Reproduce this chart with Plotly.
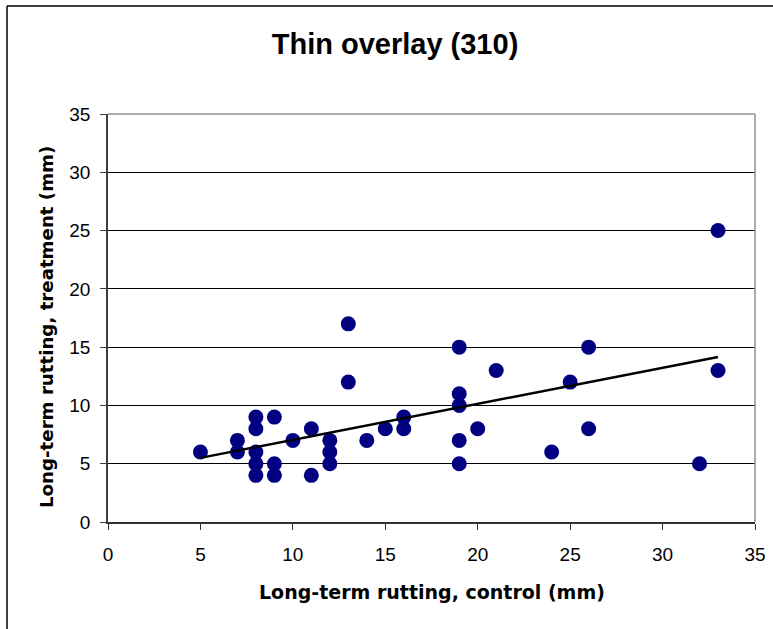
import plotly.graph_objects as go

# Long-term rutting (mm): control section vs. thin-overlay treatment section
control = [5, 7, 7, 8, 8, 8, 8, 8, 9, 9, 9, 10, 11, 11, 12, 12, 12, 13, 13, 14,
           15, 16, 16, 19, 19, 19, 19, 19, 20, 21, 24, 25, 26, 26, 32, 33, 33]
treatment = [6, 7, 6, 9, 8, 6, 5, 4, 9, 5, 4, 7, 8, 4, 7, 6, 5, 17, 12, 7,
             8, 9, 8, 15, 11, 10, 7, 5, 8, 13, 6, 12, 15, 8, 5, 25, 13]

# Linear trend line end points (treatment rutting at the smallest and largest control value)
trend_x = [5, 33]
trend_y = [5.5, 14.15]

x_ticks = [0, 5, 10, 15, 20, 25, 30, 35]
y_ticks = [0, 5, 10, 15, 20, 25, 30, 35]

W, H = 773, 629
L, R, T, B = 108, 18, 114, 107
pw, ph = W - L - R, H - T - B


def px_x(p):
    """Pixel column -> paper x coordinate."""
    return (p - L) / pw


def px_y(p):
    """Pixel row -> paper y coordinate."""
    return (H - B - p) / ph


fig = go.Figure()
fig.add_trace(go.Scatter(
    x=control, y=treatment, mode="markers",
    marker=dict(color="#000080", size=15, line=dict(width=0)),
    showlegend=False, hoverinfo="x+y",
))
fig.add_trace(go.Scatter(
    x=trend_x, y=trend_y, mode="lines",
    line=dict(color="black", width=2.5),
    showlegend=False, hoverinfo="skip",
))

arial = "Liberation Sans, Arial, sans-serif"
wide = "DejaVu Sans, Liberation Sans, sans-serif"

fig.update_layout(
    width=W, height=H, autosize=False,
    margin=dict(l=L, r=R, t=T, b=B, autoexpand=False),
    paper_bgcolor="white", plot_bgcolor="white",
    font=dict(family=arial, color="black", size=19),
    title=dict(text="<b>Thin overlay (310)</b>", x=(395 / W), xanchor="center",
               y=1 - 44 / H, yanchor="middle",
               font=dict(size=29, family=arial, color="black")),
    xaxis=dict(
        range=[0, 35], tickvals=x_ticks, ticktext=[str(v) for v in x_ticks],
        showgrid=False, zeroline=False,
        showline=True, linecolor="#303030", linewidth=1.5,
        ticks="outside", ticklen=6, tickcolor="#303030",
        tickfont=dict(size=19, family=arial), ticklabelstandoff=8,
        fixedrange=True, automargin=False,
    ),
    yaxis=dict(
        range=[0, 35], tickvals=y_ticks, ticktext=[str(v) for v in y_ticks],
        showgrid=True, gridcolor="black", gridwidth=1, zeroline=False,
        showline=True, linecolor="#404040", linewidth=1.5,
        ticks="outside", ticklen=6, tickcolor="#404040",
        tickfont=dict(size=19, family=arial), ticklabelstandoff=6,
        fixedrange=True, automargin=False,
    ),
    annotations=[
        dict(text="<b>Long-term rutting, control (mm)</b>", showarrow=False,
             xref="paper", yref="paper", x=px_x(432), y=px_y(592),
             xanchor="center", yanchor="middle",
             font=dict(size=19, family=wide, color="black")),
        dict(text="<b>Long-term rutting, treatment (mm)</b>", showarrow=False,
             xref="paper", yref="paper", x=px_x(46), y=px_y(327),
             xanchor="center", yanchor="middle", textangle=-90,
             font=dict(size=18.2, family=wide, color="black")),
    ],
    shapes=[
        # gray frame on the top and right of the plotting area
        dict(type="line", xref="paper", yref="paper", x0=0, x1=1, y0=1, y1=1,
             line=dict(color="#909090", width=1.5)),
        dict(type="line", xref="paper", yref="paper", x0=1, x1=1, y0=0, y1=1,
             line=dict(color="#909090", width=1.5)),
        # outer chart border (left and top edges)
        dict(type="line", xref="paper", yref="paper",
             x0=px_x(7), x1=px_x(7), y0=px_y(H), y1=px_y(6),
             line=dict(color="black", width=1.5), layer="below"),
        dict(type="line", xref="paper", yref="paper",
             x0=px_x(7), x1=px_x(W), y0=px_y(6), y1=px_y(6),
             line=dict(color="black", width=1.5), layer="below"),
    ],
)

fig.write_html("out.html")
